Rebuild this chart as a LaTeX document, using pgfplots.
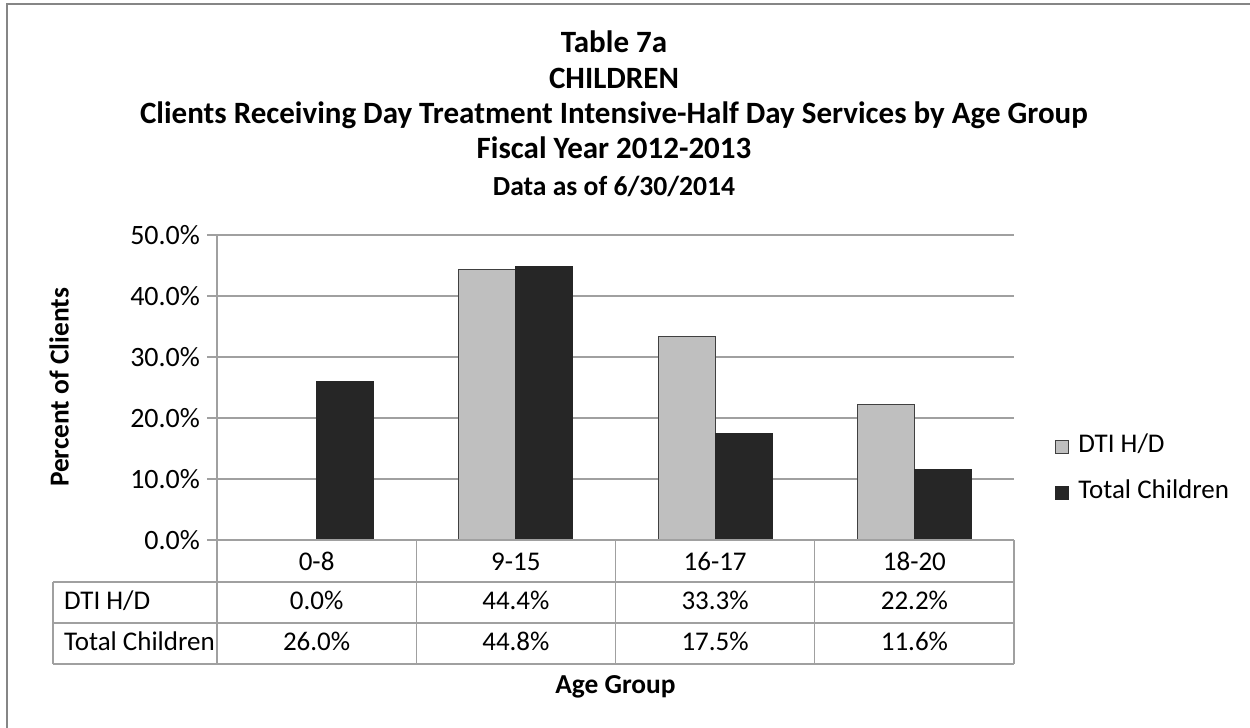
\documentclass[border=0pt]{standalone}
\usepackage{pgfplots}
\pgfplotsset{compat=1.18}
\usepackage{fontspec}
\setmainfont{Carlito}

\definecolor{barlight}{HTML}{BFBFBF}
\definecolor{bardark}{HTML}{262626}
\definecolor{gridc}{HTML}{A0A0A0}
\definecolor{framec}{HTML}{868686}
\definecolor{edgec}{HTML}{404040}

\newcommand{\smallf}{\fontsize{13.5}{15}\selectfont}
\newcommand{\titlef}{\bfseries\fontsize{15.5}{17}\selectfont}

\begin{document}
\begin{tikzpicture}
\useasboundingbox (0,0) rectangle (625pt,-364pt);
% pixel grid: 1px = 0.5pt, y down
\begin{scope}[x=0.5pt,y=-0.5pt]
  \clip (0,0) rectangle (1250,728);
  \draw[framec, line width=1.3pt] (7,760) -- (7,4) -- (1270,4);
  \node[anchor=base, font=\titlef] at (614,53) {Table 7a};
  \node[anchor=base, font=\titlef] at (614,88) {CHILDREN};
  \node[anchor=base, font=\titlef] at (614,123) {Clients Receiving Day Treatment Intensive-Half Day Services by Age Group};
  \node[anchor=base, font=\titlef] at (614,158) {Fiscal Year 2012-2013};
  \node[anchor=base, font=\bfseries\fontsize{13.8}{15}\selectfont] at (614,195) {Data as of 6/30/2014};
\end{scope}

\begin{axis}[
  at={(108.5pt,-270pt)}, anchor=south west,
  width=398.5pt, height=152.5pt, scale only axis,
  xmin=-0.5, xmax=3.5, ymin=0, ymax=50,
  xtick={0,1,2,3}, xticklabels={0-8,9-15,16-17,18-20},
  x tick style={draw=none},
  xticklabel style={anchor=center, yshift=-6pt, font=\smallf, text height=8.6pt, text depth=0pt},
  ytick={0,10,...,50},
  yticklabel={\pgfmathprintnumber[fixed,fixed zerofill,precision=1]{\tick}\%},
  /pgf/number format/assume math mode=true,
  yticklabel style={font=\fontsize{14}{16}\selectfont},
  ymajorgrids, major grid style={gridc, line width=0.6pt},
  axis x line*=bottom, axis y line*=left,
  x axis line style={draw=none},
  y axis line style={gridc, line width=0.6pt},
  y tick style={gridc, line width=0.6pt},
  tick align=outside, major tick length=5pt,
  ybar, bar width=0.2857,
  ylabel={Percent of Clients}, xlabel={Age Group},
  every axis y label/.style={at={(axis description cs:-0.1982,0.5)}, rotate=90, anchor=center, font=\bfseries\fontsize{13.7}{15}\selectfont},
  every axis x label/.style={at={(axis description cs:0.5,-0.482)}, anchor=center, font=\bfseries\fontsize{13.7}{15}\selectfont},
  legend cell align=left,
  legend image code/.code={\draw[#1] (0pt,-3.25pt) rectangle (6.5pt,3.25pt); \path (11pt,0pt);},
  legend style={at={(axis description cs:1.0514,0.231)}, anchor=west, draw=none, fill=none,
    inner sep=0pt, font=\smallf, row sep=11pt,
    nodes={inner sep=0pt, text height=9pt, text depth=3pt}},
]
\addplot[ybar, bar shift=-0.142857, fill=barlight, draw=edgec, line width=0.5pt]
  coordinates {(0,0) (1,44.4) (2,33.3) (3,22.2)};
\addlegendentry{DTI H/D}
\addplot[ybar, bar shift=0.142857, fill=bardark, draw=bardark, line width=0.5pt]
  coordinates {(0,26.0) (1,44.8) (2,17.5) (3,11.6)};
\addlegendentry{Total Children}
\end{axis}

% data table under the plot
\begin{scope}[x=0.5pt,y=-0.5pt]
  \draw[gridc, line width=0.6pt] (217,540) -- (1014,540);
  \draw[gridc, line width=0.6pt] (53,582) -- (1014,582) (53,623) -- (1014,623) (53,664) -- (1014,664);
  \draw[gridc, line width=0.6pt] (53,582) -- (53,664);
  \foreach \xx in {217,416.25,615.5,814.75,1014}
    \draw[gridc, line width=0.6pt] (\xx,540) -- (\xx,664);
  \node[anchor=base west, font=\smallf] at (57,609) {DTI H/D};
  \node[anchor=base west, font=\smallf] at (57,650) {Total Children};
  \foreach \xx/\a/\b in {316.6/0.0/26.0, 515.9/44.4/44.8, 715.1/33.3/17.5, 914.4/22.2/11.6} {
    \node[anchor=base, font=\smallf] at (\xx,609) {\a\%};
    \node[anchor=base, font=\smallf] at (\xx,650) {\b\%};
  }
\end{scope}
\end{tikzpicture}
\end{document}
